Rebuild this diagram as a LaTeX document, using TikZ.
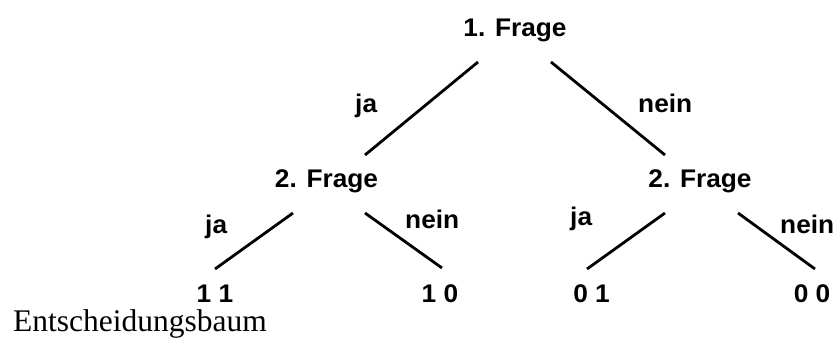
\documentclass[tikz,border=0pt]{standalone}
\usepackage{fontspec}
\newfontfamily\labfont[FakeStretch=1.03]{Liberation Sans Bold}
\newfontfamily\capfont{Liberation Serif}
\begin{document}
\begin{tikzpicture}[x=1bp,y=-1bp,
  lab/.style={inner sep=0pt,font=\labfont\fontsize{25.5bp}{28bp}\selectfont,anchor=base},
  edgelbl/.style={lab,anchor=base west},
  branch/.style={line width=2.8bp,black}]
\useasboundingbox (0,0) rectangle (836,338);
% question nodes
\node[lab] (n1) at (515,36) {1. Frage};
\node[lab] (n2L) at (326.5,187) {2. Frage};
\node[lab] (n2R) at (700,187) {2. Frage};
% leaves
\node[lab] (l11) at (215,302) {1 1};
\node[lab] (l10) at (440,302) {1 0};
\node[lab] (l01) at (591.5,302) {0 1};
\node[lab] (l00) at (812,302) {0 0};
% edge labels
\node[edgelbl] (ja1) at (355,112) {ja};
\node[edgelbl] (nein1) at (638,112) {nein};
\node[edgelbl] (ja2) at (205,233) {ja};
\node[edgelbl] (nein2) at (405,228) {nein};
\node[edgelbl] (ja3) at (570,225) {ja};
\node[edgelbl] (nein3) at (780,233) {nein};
% caption
\node[inner sep=0pt,anchor=base west,font=\capfont\fontsize{31.5bp}{36bp}\selectfont] (cap) at (13,331) {Entscheidungsbaum};
% branches
\draw[branch] ([shift={(-37,26)}]n1.base) -- ([shift={(38.5,-32)}]n2L.base);
\draw[branch] ([shift={(36,26)}]n1.base) -- ([shift={(-35,-32)}]n2R.base);
\draw[branch] ([shift={(-33.5,26)}]n2L.base) -- ([shift={(0,-33)}]l11.base);
\draw[branch] ([shift={(38.5,26)}]n2L.base) -- ([shift={(2,-34)}]l10.base);
\draw[branch] ([shift={(-35,26)}]n2R.base) -- ([shift={(-4.5,-33)}]l01.base);
\draw[branch] ([shift={(38,26)}]n2R.base) -- ([shift={(3,-33)}]l00.base);
\end{tikzpicture}
\end{document}
